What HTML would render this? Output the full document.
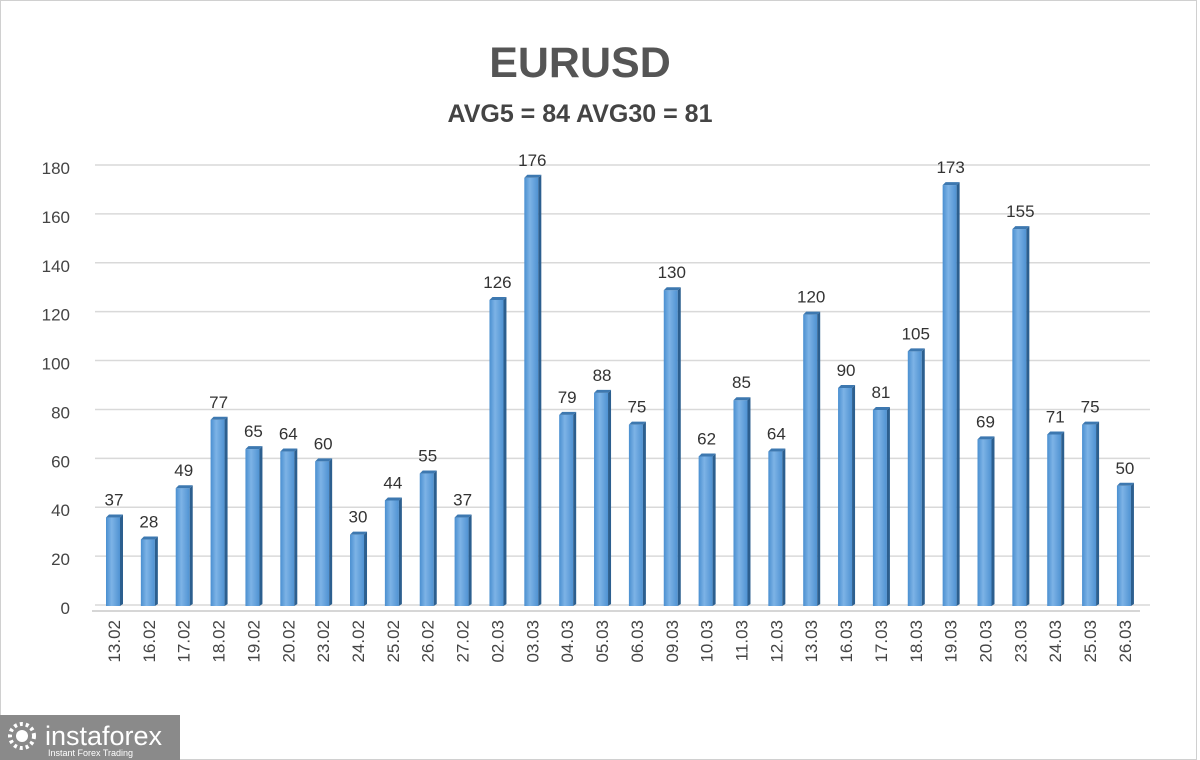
<!DOCTYPE html>
<html><head><meta charset="utf-8"><style>
html,body{margin:0;padding:0;background:#fff;}
svg{display:block;font-family:"Liberation Sans",sans-serif;}
</style></head><body>
<svg width="1200" height="760" viewBox="0 0 1200 760">
<defs>
<linearGradient id="g" x1="0" x2="1">
<stop offset="0" stop-color="#4a8fd0"/><stop offset="0.4" stop-color="#7db3e6"/><stop offset="1" stop-color="#4f92d2"/>
</linearGradient>
</defs>
<rect x="0" y="0" width="1200" height="760" fill="#fff"/>
<rect x="0.5" y="0.5" width="1196" height="759" fill="none" stroke="#d0d0d0"/>
<text x="580" y="77" font-size="43" font-weight="bold" fill="#555" text-anchor="middle">EURUSD</text>
<text x="580" y="122" font-size="25" font-weight="bold" fill="#444" text-anchor="middle">AVG5 = 84 AVG30 = 81</text>
<g id="grid" stroke="#d9d9d9" stroke-width="1.5"></g>
<g id="yl" font-size="17" fill="#444" text-anchor="end"></g>
<g id="bars"></g>
<g id="xl" font-size="17" fill="#444"></g>
<rect x="0" y="715" width="180" height="45" fill="#8a8a8a"/>
<circle cx="22" cy="736" r="12" fill="none" stroke="#fff" stroke-width="4" stroke-dasharray="3 3"/>
<circle cx="22" cy="736" r="6" fill="#fff"/>
<text x="45" y="745" font-size="27" fill="#fff">instaforex</text>
<text x="48" y="756" font-size="9" fill="#fff">Instant Forex Trading</text>
</svg>
<script>
const v=[37,28,49,77,65,64,60,30,44,55,37,126,176,79,88,75,130,62,85,64,120,90,81,105,173,69,155,71,75,50];
const d=["13.02","16.02","17.02","18.02","19.02","20.02","23.02","24.02","25.02","26.02","27.02","02.03","03.03","04.03","05.03","06.03","09.03","10.03","11.03","12.03","13.03","16.03","17.03","18.03","19.03","20.03","23.03","24.03","25.03","26.03"];
const ns="http://www.w3.org/2000/svg";
function el(p,t,a,txt){const e=document.createElementNS(ns,t);for(const k in a)e.setAttribute(k,a[k]);if(txt!==undefined)e.textContent=txt;document.getElementById(p).appendChild(e);}
const y0=608,k=440/180;
for(let i=0;i<=9;i++){const y=y0-i*20*k;el("grid","line",{x1:95,x2:1150,y1:y-3,y2:y-3});el("yl","text",{x:70,y:y+6},String(i*20));}
el("grid","line",{x1:92,x2:1140,y1:611,y2:611,stroke:"#c8c8c8"});
v.forEach((val,i)=>{const cx=114+i*34.86,x=cx-8,w=14,top=y0-val*k,b=606;
el("bars","rect",{x:x,y:top,width:w,height:b-top,fill:"url(#g)"});
el("bars","polygon",{points:`${x+w},${top} ${x+w+3},${top-3} ${x+w+3},${b-2} ${x+w},${b}`,fill:"#2c5f8f"});
el("bars","polygon",{points:`${x},${top} ${x+3},${top-3} ${x+w+3},${top-3} ${x+w},${top}`,fill:"#3d78b0"});
el("bars","text",{x:cx,y:top-12,"font-size":17,fill:"#333","text-anchor":"middle"},String(val));
el("xl","text",{transform:`translate(${cx+6},620) rotate(-90)`,"text-anchor":"end"},d[i]);
});
</script>
</body></html>
